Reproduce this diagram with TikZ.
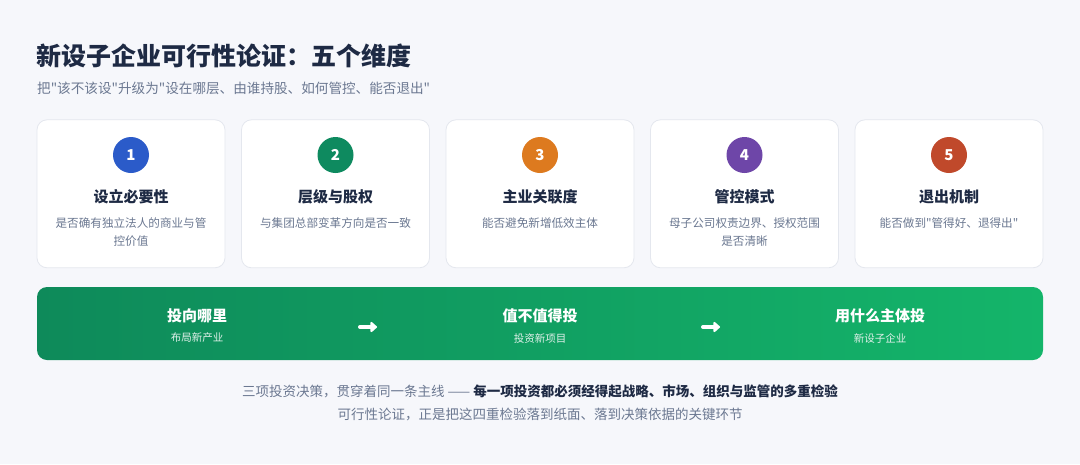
\documentclass[tikz,border=0pt]{standalone}
\usepackage{fontspec}
\setmainfont{Noto Sans CJK SC}[Ligatures=TeXOff]
\usepackage{tikz}
\usetikzlibrary{arrows.meta}

\definecolor{pagebg}{HTML}{F6F7FB}
\definecolor{cardline}{HTML}{E4E7EE}
\definecolor{inkdark}{HTML}{1E2A44}
\definecolor{inkgray}{HTML}{6B7891}
\definecolor{badgeA}{HTML}{2B5BC9}
\definecolor{badgeB}{HTML}{0E8A5F}
\definecolor{badgeC}{HTML}{DD7A1F}
\definecolor{badgeD}{HTML}{6E46A8}
\definecolor{badgeE}{HTML}{C0492B}
\definecolor{bandL}{HTML}{0E8A5A}
\definecolor{bandR}{HTML}{14B56A}

\tikzset{
  card/.style={draw=cardline, fill=white, line width=0.8pt, rounded corners=10pt,
               minimum width=188pt, minimum height=148pt},
  badge/.style={circle, minimum size=36pt, inner sep=0pt, text=white,
                font=\fontsize{15}{15}\selectfont\bfseries},
  cardtitle/.style={text=inkdark, font=\fontsize{15}{18}\selectfont\bfseries},
  carddesc/.style={text=inkgray, align=center, inner sep=0pt,
                   font=\fontsize{11.6}{18.4}\selectfont},
  stagehead/.style={text=white, font=\fontsize{15}{18}\selectfont\bfseries},
  stagesub/.style={text=white!88!bandL, font=\fontsize{10.5}{12}\selectfont},
  flowarrow/.style={white, line width=4pt, line cap=round,
                    -{Triangle[round,length=7pt,width=12pt]}}
}

\begin{document}
\begin{tikzpicture}[x=1pt,y=-1pt]
%page
\fill[pagebg] (0,0) rectangle (1080,464);
\useasboundingbox (0,0) rectangle (1080,464);
%heading
\node[anchor=west, inner sep=0pt, text=inkdark, font=\fontsize{25}{28}\selectfont\bfseries]
  (title) at (36,56) {新设子企业可行性论证：五个维度};
\node[anchor=west, inner sep=0pt, text=inkgray, font=\fontsize{13.6}{16}\selectfont]
  (subtitle) at (37,88) {把"该不该设"升级为"设在哪层、由谁持股、如何管控、能否退出"};
%five cards
\foreach \i/\col/\ttl/\desc in {1/badgeA/设立必要性/{是否确有独立法人的商业与管\\控价值},
                                2/badgeB/层级与股权/{与集团总部变革方向是否一致},
                                3/badgeC/主业关联度/{能否避免新增低效主体},
                                4/badgeD/管控模式/{母子公司权责边界、授权范围\\是否清晰},
                                5/badgeE/退出机制/{能否做到"管得好、退得出"}}
{
  \node[card] (card\i) at (\i*204.5 - 73.5, 193.8) {};
  \node[badge, fill=\col] (badge\i) at (\i*204.5 - 73.5, 155) {\i};
  \node[cardtitle] (head\i) at (\i*204.5 - 73.5, 197) {\ttl};
  % description under the title
  \node[carddesc, anchor=north] (desc\i) at (\i*204.5 - 73.5, 217.5) {\desc};
}
%green band
\node[rounded corners=10pt, left color=bandL, right color=bandR, draw=none,
      minimum width=1006pt, minimum height=73pt] (band) at (540,323.5) {};
\foreach \j/\x/\ttl/\sub in {1/197/投向哪里/布局新产业,
                             2/540/值不值得投/投资新项目,
                             3/880/用什么主体投/新设子企业}
{
  \node[stagehead] (stage\j) at (\x,316) {\ttl};
  \node[stagesub] (stagesub\j) at (\x,338) {\sub};
}
%arrows between stages
\coordinate (arrA1) at (360,327); \coordinate (arrA2) at (377,327);
\coordinate (arrB1) at (703,327); \coordinate (arrB2) at (720,327);
\draw[flowarrow] (arrA1) -- (arrA2);
\draw[flowarrow] (arrB1) -- (arrB2);
%closing lines
\node[text=inkgray, font=\fontsize{13.5}{16}\selectfont] (summary) at (540,391)
  {三项投资决策，贯穿着同一条主线 —— {\color{inkdark}\bfseries 每一项投资都必须经得起战略、市场、组织与监管的多重检验}};
\node[text=inkgray, font=\fontsize{13.5}{16}\selectfont] (closing) at (540,414)
  {可行性论证，正是把这四重检验落到纸面、落到决策依据的关键环节};
\end{tikzpicture}
\end{document}
